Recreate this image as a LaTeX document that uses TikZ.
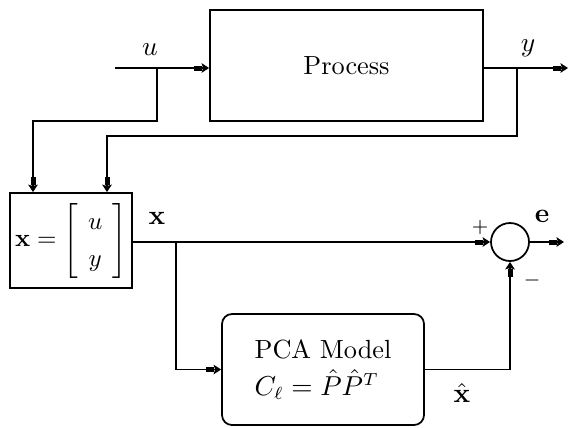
\documentclass[tikz,border=0pt]{standalone}
\usetikzlibrary{arrows.meta}
\begin{document}
\begin{tikzpicture}[x=0.4pt,y=-0.4pt,line width=0.7pt,
  every node/.style={font=\fontsize{10.5}{12.6}\selectfont},
  sig/.style={-{Rectangle[length=3pt,width=2pt,sep=0pt]Stealth[length=3pt,width=3.8pt,inset=0.6pt]}},
  block/.style={draw,rectangle,inner sep=0pt},
  lbl/.style={inner sep=0pt}]
\useasboundingbox (0,0) rectangle (570,427);

% blocks
\node[block,minimum width=109.2pt,minimum height=44.4pt] (proc) at (346.5,65.5) {Process};
\node[block,minimum width=48.8pt,minimum height=38pt,font=\fontsize{9.6}{11.5}\selectfont] (vec) at (71,240.5)
  {\renewcommand{\arraystretch}{1.3}\setlength{\arraycolsep}{4pt}$\mathbf{x}=\left[\begin{array}{c} u\\ y\end{array}\right]$};
\node[block,rounded corners=4pt,minimum width=80.8pt,minimum height=44.4pt,align=left] (pca) at (323,369.5)
  {PCA Model\\[2pt] $C_\ell=\hat{P}\hat{P}^T$};
\node[draw,circle,minimum size=15.2pt,inner sep=0pt] (sum) at (510,242) {};

% free ends and branch points
\coordinate (uin) at (115,68);
\coordinate (ub) at (157,68);
\coordinate (uc) at (33,121);
\coordinate (yout) at (568,68);
\coordinate (yb) at (517,68);
\coordinate (yc) at (107,136);
\coordinate (xb) at (176,242);
\coordinate (eout) at (564,242);

% connectors
\draw[sig] (uin) -- (proc.west |- uin);
\draw[sig] (ub) |- (uc) -- (uc |- vec.north);
\draw[sig] (proc.east |- yout) -- (yout);
\draw[sig] (yb) |- (yc) -- (yc |- vec.north);
\draw[sig] (vec.east |- sum.west) -- (sum.west);
\draw[sig] (xb) |- (pca.west);
\draw[sig] (pca.east) -| (sum.south);
\draw[sig] (sum.east) -- (eout);

% labels
\node[lbl] (lu) at (150,50) {$u$};
\node[lbl] (ly) at (528,48) {$y$};
\node[lbl] (lx) at (157,218) {$\mathbf{x}$};
\node[lbl] (lp) at (480,227) {\footnotesize$+$};
\node[lbl] (le) at (542,216) {$\mathbf{e}$};
\node[lbl] (lm) at (532,280) {\footnotesize$-$};
\node[lbl] (lxh) at (462,393) {$\hat{\mathbf{x}}$};
\end{tikzpicture}
\end{document}
